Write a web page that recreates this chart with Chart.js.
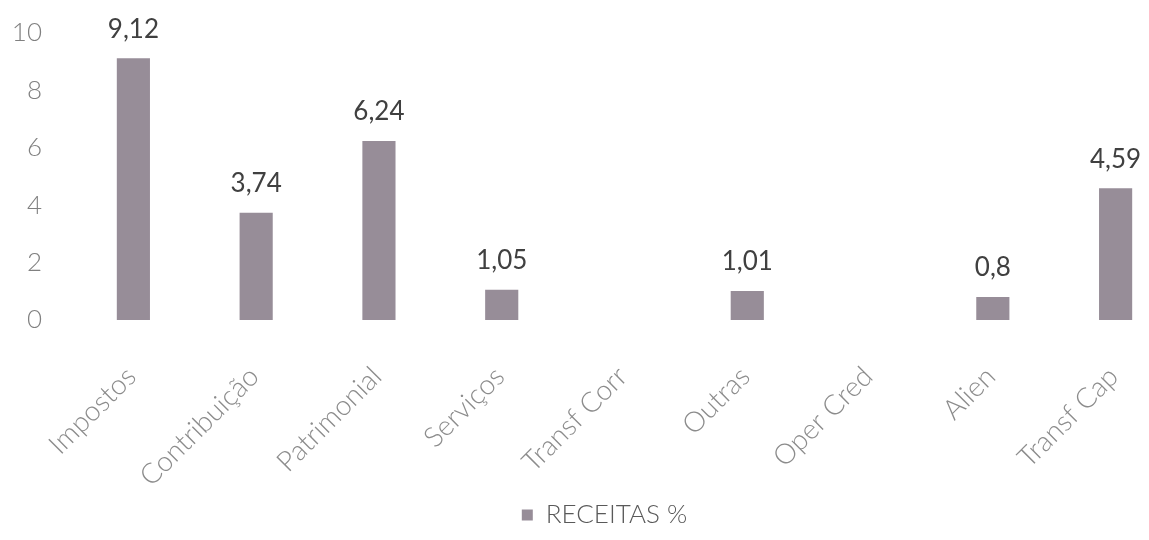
<!DOCTYPE html>
<html>
<head>
<meta charset="utf-8">
<script src="https://cdn.jsdelivr.net/npm/chart.js@4"></script>
<style>
  html, body { margin: 0; padding: 0; background: #fff; overflow: hidden; }
  #wrap { width: 1185px; height: 540px; position: relative; }
</style>
</head>
<body>
<div id="wrap"><canvas id="receitasChart"></canvas></div>
<script>
// categories and values (% of receitas)
const categorias = ['Impostos', 'Contribuição', 'Patrimonial', 'Serviços', 'Transf Corr', 'Outras', 'Oper Cred', 'Alien', 'Transf Cap'];
const receitas = [9.12, 3.74, 6.24, 1.05, null, 1.01, null, 0.8, 4.59];
const yTicks = [0, 2, 4, 6, 8, 10];

const barColor = '#978d98';
const fontFamily = 'Lato, "Open Sans", sans-serif';

// draws the value above each bar, decimal comma like the original
const valueLabels = {
    id: 'valueLabels',
    afterDatasetsDraw(chart) {
        const ctx = chart.ctx;
        const meta = chart.getDatasetMeta(0);
        ctx.save();
        ctx.font = '26px ' + fontFamily;
        ctx.fillStyle = '#404040';
        ctx.textAlign = 'center';
        ctx.textBaseline = 'bottom';
        meta.data.forEach((bar, i) => {
            const v = receitas[i];
            if (v === null) return;
            ctx.fillText(String(v).replace('.', ','), bar.x, bar.y - 16);
        });
        ctx.restore();
    }
};

// nudge the legend a bit right, the original sits off-centre
const legendShift = {
    id: 'legendShift',
    afterLayout(chart) {
        chart.legend.left += 16;
        chart.legend.right += 16;
    }
};

const ctx = document.getElementById('receitasChart').getContext('2d');
const chart = new Chart(ctx, {
    type: 'bar',
    data: {
        labels: categorias,
        datasets: [{
            label: 'RECEITAS %',
            data: receitas,
            backgroundColor: barColor,
            borderWidth: 0,
            barPercentage: 0.27,
            categoryPercentage: 1
        }]
    },
    options: {
        responsive: true,
        maintainAspectRatio: false,
        animation: false,
        layout: {
            padding: { top: 33, left: 0, right: 8, bottom: 2 }
        },
        plugins: {
            legend: {
                position: 'bottom',
                labels: {
                    boxWidth: 11,
                    boxHeight: 11,
                    padding: 10,
                    color: '#595959',
                    font: { size: 26, family: fontFamily, weight: 300 }
                }
            },
            tooltip: { enabled: false }
        },
        scales: {
            y: {
                min: 0,
                max: 10,
                afterBuildTicks: (axis) => { axis.ticks = yTicks.map(v => ({ value: v })); },
                afterFit: (axis) => {
                    axis.width = 72;
                    axis.paddingTop = 0;
                    axis.paddingBottom = 0;
                },
                grid: { display: false, drawTicks: false },
                border: { display: false },
                ticks: {
                    padding: 30,
                    color: '#808080',
                    font: { size: 26, family: fontFamily, weight: 300 }
                }
            },
            x: {
                afterFit: (axis) => {
                    axis.paddingLeft = 0;
                    axis.paddingRight = 0;
                    axis.height = 172;
                },
                grid: { display: false, drawTicks: false },
                border: { display: false },
                ticks: {
                    minRotation: 45,
                    maxRotation: 45,
                    padding: 40,
                    labelOffset: -2,
                    color: '#8c8c8c',
                    font: { size: 28, family: fontFamily, weight: 300 }
                }
            }
        }
    },
    plugins: [valueLabels, legendShift]
});
</script>
</body>
</html>
